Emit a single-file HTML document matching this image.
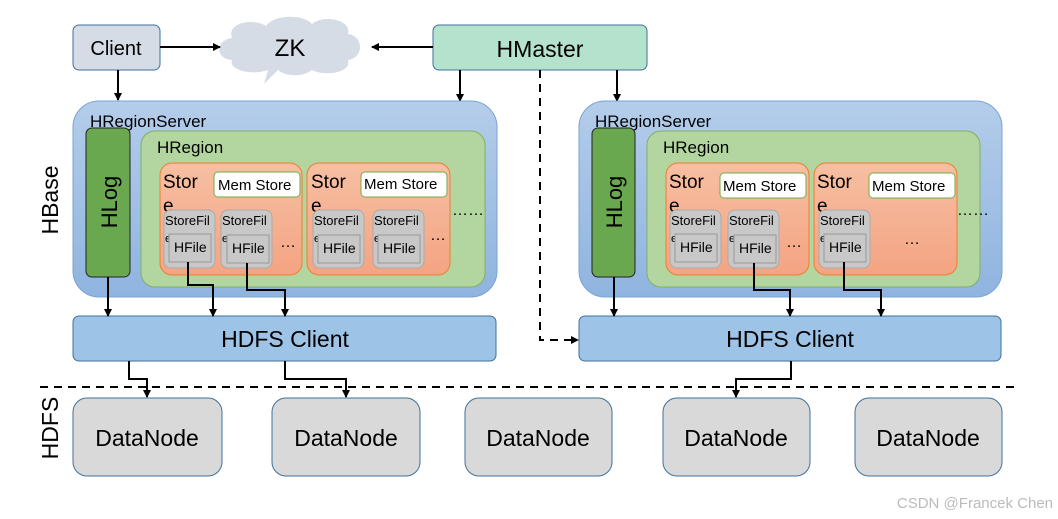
<!DOCTYPE html>
<html><head><meta charset="utf-8"><style>
body{margin:0;background:#fff}
svg{display:block;font-family:"Liberation Sans",sans-serif}
</style></head><body>
<svg width="1058" height="519" viewBox="0 0 1058 519" xmlns="http://www.w3.org/2000/svg">
<defs>
<marker id="a" markerWidth="8" markerHeight="8" refX="7" refY="4" orient="auto" markerUnits="userSpaceOnUse"><path d="M0,0 L8,4 L0,8 z" fill="#000"/></marker>
<linearGradient id="rs" x1="0" y1="0" x2="0" y2="1"><stop offset="0" stop-color="#b4cdea"/><stop offset="1" stop-color="#8fb4df"/></linearGradient>
<linearGradient id="st" x1="0" y1="0" x2="0" y2="1"><stop offset="0" stop-color="#f6bfa3"/><stop offset="1" stop-color="#f4a482"/></linearGradient>
</defs>
<!-- top -->
<rect x="73" y="25" width="87" height="45" rx="6" fill="#d6dce6" stroke="#41719c"/>
<text x="116" y="55" font-size="20" text-anchor="middle">Client</text>
<path d="M232,38 C226,22 255,18 266,26 C274,14 304,14 312,24 C324,14 352,20 348,34 C364,36 364,58 348,60 C352,74 322,76 312,70 C302,78 285,76 278,70 L264,84 L268,70 C252,76 228,70 232,60 C214,58 216,40 232,38 z" fill="#d6dce6"/>
<text x="290" y="56" font-size="24" text-anchor="middle">ZK</text>
<rect x="433" y="25" width="214" height="45" rx="6" fill="#b5e2cc" stroke="#41719c"/>
<text x="540" y="57" font-size="23" text-anchor="middle">HMaster</text>
<g stroke="#000" stroke-width="2" fill="none">
<line x1="160" y1="47" x2="220" y2="47" marker-end="url(#a)"/>
<line x1="433" y1="47" x2="372" y2="47" marker-end="url(#a)"/>
<line x1="118" y1="70" x2="118" y2="100" marker-end="url(#a)"/>
<line x1="460" y1="70" x2="460" y2="101" marker-end="url(#a)"/>
<line x1="617" y1="70" x2="617" y2="101" marker-end="url(#a)"/>
<path d="M540,70 V340 H578" stroke-dasharray="8,6" marker-end="url(#a)"/>
<line x1="40" y1="387" x2="1015" y2="387" stroke-dasharray="8,6"/>
</g>
<text transform="translate(58,200) rotate(-90)" font-size="23" text-anchor="middle">HBase</text>
<text transform="translate(58,428) rotate(-90)" font-size="23" text-anchor="middle">HDFS</text>

<rect x="73" y="101" width="424" height="196" rx="26" fill="url(#rs)" stroke="#7aa3d6"/>
<text x="90" y="127" font-size="17">HRegionServer</text>
<rect x="86" y="128" width="44" height="149" rx="6" fill="#6aa84f" stroke="#222"/>
<text transform="translate(117,202) rotate(-90)" font-size="22" text-anchor="middle">HLog</text>
<rect x="141" y="131" width="344" height="156" rx="14" fill="#b3d6a0" stroke="#7fb262"/>
<text x="157" y="153" font-size="17">HRegion</text>
<g font-size="17">
<rect x="160" y="163" width="142" height="112" rx="12" fill="url(#st)" stroke="#ed7d31"/>
<text x="163" y="188" font-size="19">Stor</text><text x="163" y="212" font-size="19">e</text>
<rect x="214" y="172" width="86" height="25" rx="4" fill="#fff" stroke="#70ad47"/>
<text x="218" y="190" font-size="15">Mem Store</text>
<rect x="164" y="210" width="51" height="58" rx="7" fill="#c8c8c8" stroke="#aaa"/>
<text x="165" y="225" font-size="13">StoreFil</text><text x="165" y="242" font-size="11">e</text>
<rect x="169" y="234" width="42" height="28" fill="#c8c8c8" stroke="#999"/>
<text x="174" y="252" font-size="14">HFile</text>
<rect x="221" y="210" width="51" height="58" rx="7" fill="#c8c8c8" stroke="#aaa"/>
<text x="222" y="225" font-size="13">StoreFil</text><text x="222" y="242" font-size="11">e</text>
<rect x="227" y="235" width="42" height="28" fill="#c8c8c8" stroke="#999"/>
<text x="232" y="253" font-size="14">HFile</text>
<text x="280" y="247" font-size="16">…</text>
<rect x="307" y="163" width="143" height="112" rx="12" fill="url(#st)" stroke="#ed7d31"/>
<text x="311" y="188" font-size="19">Stor</text><text x="311" y="212" font-size="19">e</text>
<rect x="361" y="172" width="86" height="25" rx="4" fill="#fff" stroke="#70ad47"/>
<text x="364" y="189" font-size="15">Mem Store</text>
<rect x="313" y="210" width="51" height="58" rx="7" fill="#c8c8c8" stroke="#aaa"/>
<text x="314" y="225" font-size="13">StoreFil</text><text x="314" y="242" font-size="11">e</text>
<rect x="318" y="235" width="42" height="28" fill="#c8c8c8" stroke="#999"/>
<text x="323" y="253" font-size="14">HFile</text>
<rect x="373" y="210" width="51" height="58" rx="7" fill="#c8c8c8" stroke="#aaa"/>
<text x="374" y="225" font-size="13">StoreFil</text><text x="374" y="242" font-size="11">e</text>
<rect x="378" y="235" width="42" height="28" fill="#c8c8c8" stroke="#999"/>
<text x="383" y="253" font-size="14">HFile</text>
<text x="430" y="240" font-size="16">…</text>
<text x="452" y="215" font-size="16">……</text>
</g>

<rect x="579" y="101" width="423" height="196" rx="26" fill="url(#rs)" stroke="#7aa3d6"/>
<text x="595" y="127" font-size="17">HRegionServer</text>
<rect x="592" y="128" width="43" height="149" rx="6" fill="#6aa84f" stroke="#222"/>
<text transform="translate(622,202) rotate(-90)" font-size="22" text-anchor="middle">HLog</text>
<rect x="647" y="131" width="333" height="156" rx="14" fill="#b3d6a0" stroke="#7fb262"/>
<text x="663" y="153" font-size="17">HRegion</text>
<rect x="666" y="163" width="143" height="112" rx="12" fill="url(#st)" stroke="#ed7d31"/>
<text x="669" y="188" font-size="19">Stor</text><text x="669" y="212" font-size="19">e</text>
<rect x="720" y="173" width="86" height="25" rx="4" fill="#fff" stroke="#70ad47"/>
<text x="723" y="191" font-size="15">Mem Store</text>
<rect x="670" y="210" width="51" height="58" rx="7" fill="#c8c8c8" stroke="#aaa"/>
<text x="671" y="225" font-size="13">StoreFil</text><text x="671" y="242" font-size="11">e</text>
<rect x="675" y="234" width="42" height="28" fill="#c8c8c8" stroke="#999"/>
<text x="680" y="252" font-size="14">HFile</text>
<rect x="728" y="210" width="51" height="58" rx="7" fill="#c8c8c8" stroke="#aaa"/>
<text x="729" y="225" font-size="13">StoreFil</text><text x="729" y="242" font-size="11">e</text>
<rect x="734" y="235" width="42" height="28" fill="#c8c8c8" stroke="#999"/>
<text x="739" y="253" font-size="14">HFile</text>
<text x="786" y="247" font-size="16">…</text>
<rect x="814" y="163" width="143" height="112" rx="12" fill="url(#st)" stroke="#ed7d31"/>
<text x="817" y="188" font-size="19">Stor</text><text x="817" y="212" font-size="19">e</text>
<rect x="869" y="173" width="86" height="25" rx="4" fill="#fff" stroke="#70ad47"/>
<text x="872" y="191" font-size="15">Mem Store</text>
<rect x="819" y="210" width="51" height="58" rx="7" fill="#c8c8c8" stroke="#aaa"/>
<text x="820" y="225" font-size="13">StoreFil</text><text x="820" y="242" font-size="11">e</text>
<rect x="824" y="234" width="42" height="28" fill="#c8c8c8" stroke="#999"/>
<text x="829" y="252" font-size="14">HFile</text>
<text x="904" y="244" font-size="16">…</text>
<text x="957" y="215" font-size="16">……</text>

<rect x="73" y="316" width="423" height="45" rx="6" fill="#9dc3e6" stroke="#41719c"/>
<text x="285" y="347" font-size="23" text-anchor="middle">HDFS Client</text>
<rect x="579" y="316" width="422" height="45" rx="6" fill="#9dc3e6" stroke="#41719c"/>
<text x="790" y="347" font-size="23" text-anchor="middle">HDFS Client</text>

<g stroke="#000" stroke-width="2" fill="none">
<line x1="108" y1="277" x2="108" y2="316" marker-end="url(#a)"/>
<path d="M188,262 V285 H213 V316" marker-end="url(#a)"/>
<path d="M247,263 V290 H285 V316" marker-end="url(#a)"/>
<line x1="614" y1="277" x2="614" y2="316" marker-end="url(#a)"/>
<path d="M754,263 V290 H790 V316" marker-end="url(#a)"/>
<path d="M844,262 V290 H881 V316" marker-end="url(#a)"/>
<path d="M129,361 V379 H147 V397" marker-end="url(#a)"/>
<path d="M285,361 V379 H346 V397" marker-end="url(#a)"/>
<path d="M791,361 V379 H736 V397" marker-end="url(#a)"/>
</g>

<g font-size="23" text-anchor="middle">
<rect x="73" y="398" width="149" height="78" rx="14" fill="#d9d9d9" stroke="#41719c"/><text x="147" y="446">DataNode</text>
<rect x="272" y="398" width="148" height="78" rx="14" fill="#d9d9d9" stroke="#41719c"/><text x="346" y="446">DataNode</text>
<rect x="465" y="398" width="147" height="78" rx="14" fill="#d9d9d9" stroke="#41719c"/><text x="538" y="446">DataNode</text>
<rect x="663" y="398" width="147" height="78" rx="14" fill="#d9d9d9" stroke="#41719c"/><text x="736" y="446">DataNode</text>
<rect x="855" y="398" width="147" height="78" rx="14" fill="#d9d9d9" stroke="#41719c"/><text x="928" y="446">DataNode</text>
</g>
<text x="1053" y="508" font-size="15" fill="#bbb" text-anchor="end">CSDN @Francek Chen</text>
</svg>
</body></html>
